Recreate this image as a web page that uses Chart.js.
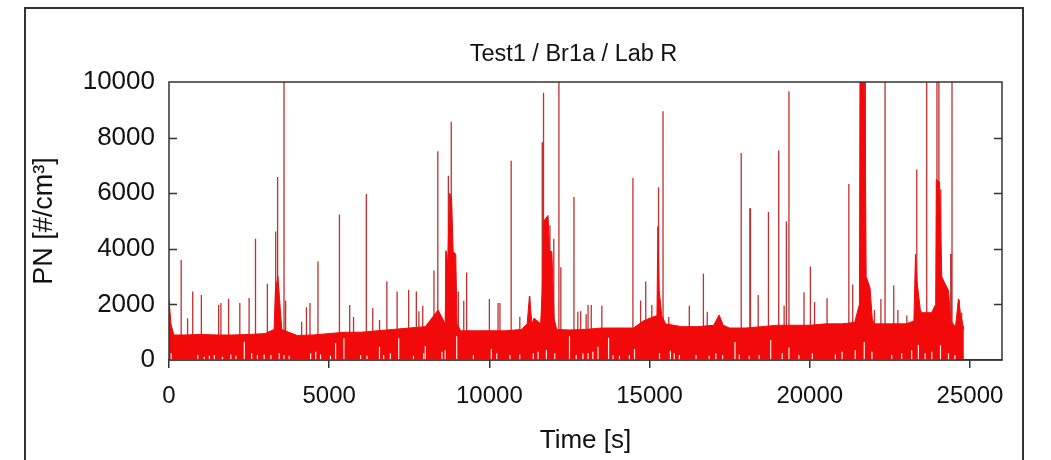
<!DOCTYPE html>
<html>
<head>
<meta charset="utf-8">
<script src="https://cdn.jsdelivr.net/npm/chart.js@4"></script>
<style>
  html, body { margin: 0; padding: 0; background: #fff; overflow: hidden; }
  #wrap { position: relative; width: 1051px; height: 460px; }
  #frame { position: absolute; left: 24px; top: 7px; width: 1000px; height: 500px; border: 2px solid #333; box-sizing: border-box; pointer-events: none; }
  canvas { position: absolute; left: 0; top: 0; }
</style>
</head>
<body>
<div id="wrap">
  <canvas id="chart" width="1051" height="460"></canvas>
  <div id="frame"></div>
</div>
<script>
// baseline band: upper envelope of the dense signal [time s, PN]
const bandTimes = [0, 60, 150, 500, 1000, 1500, 2000, 2500, 3000, 3280, 3320, 3400, 3450, 3520, 4000, 4500, 5000, 5500, 6000, 6500, 7000, 7500, 8000, 8200, 8400, 8620, 8650, 8700, 8760, 8820, 8870, 8950, 8990, 9100, 9500, 10000, 10500, 11000, 11180, 11250, 11330, 11400, 11600, 11650, 11700, 11830, 11880, 11950, 12020, 12100, 12500, 13000, 13500, 14000, 14500, 14800, 15000, 15230, 15260, 15300, 15380, 15500, 16000, 16500, 17000, 17170, 17300, 17500, 18000, 18500, 19000, 19500, 20000, 20500, 21000, 21400, 21550, 21570, 21720, 21760, 21880, 21950, 22000, 22500, 23000, 23250, 23300, 23350, 23450, 23500, 23800, 23930, 23950, 24050, 24120, 24200, 24330, 24400, 24550, 24640, 24700, 24810];
const bandTop = [2200, 1300, 900, 900, 920, 900, 900, 920, 950, 1100, 2500, 3000, 2200, 1100, 880, 900, 950, 1000, 1000, 1050, 1100, 1150, 1200, 1500, 1800, 1300, 3900, 3500, 6000, 5800, 3900, 3800, 1300, 1050, 1050, 1050, 1050, 1100, 1300, 2300, 1300, 1500, 1300, 2500, 5000, 5200, 3900, 3900, 1500, 1100, 1080, 1100, 1150, 1150, 1150, 1400, 1500, 1600, 4800, 2500, 1600, 1300, 1200, 1200, 1250, 1620, 1250, 1150, 1150, 1200, 1250, 1250, 1250, 1300, 1300, 1350, 2000, 10500, 10500, 3000, 2600, 1500, 1300, 1300, 1300, 1400, 3800, 2800, 1800, 1700, 1700, 2000, 6500, 6400, 3000, 2800, 2500, 1400, 1200, 2200, 1700, 1100];

// isolated spikes [time s, peak PN]
const spikeTimes = [380, 580, 740, 1010, 1550, 1620, 1860, 2210, 2500, 2700, 3070, 3330, 3390, 3590, 3640, 4140, 4290, 4400, 4650, 5320, 5640, 5760, 6160, 6360, 6560, 6580, 6800, 7120, 7480, 7720, 7800, 7920, 8270, 8390, 8640, 8720, 8810, 8910, 9030, 9200, 9290, 10000, 10270, 10330, 10680, 10950, 11260, 11390, 11650, 11690, 11890, 12010, 12170, 12230, 12640, 12760, 12850, 13020, 13080, 13180, 13510, 14480, 14720, 14880, 15070, 15280, 15420, 15600, 16240, 16680, 16800, 17860, 18130, 18150, 18390, 18710, 19030, 19200, 19270, 19350, 19820, 20020, 20150, 20540, 21220, 21340, 21580, 21650, 21730, 22020, 22220, 22350, 22620, 22750, 23030, 23340, 23650, 23970, 24030, 24090, 24400, 24440, 24670, 24740];
const spikePeaks = [3600, 1500, 2460, 2340, 1980, 2050, 2200, 2050, 2230, 4360, 2740, 4620, 6580, 10500, 2140, 1380, 1900, 2050, 3540, 5230, 1980, 1550, 5970, 1870, 1400, 1440, 2820, 2460, 2520, 2460, 1750, 1950, 3220, 7510, 3940, 6630, 8570, 3850, 2460, 2130, 3150, 2190, 2050, 2050, 7170, 1560, 2300, 1490, 7830, 9610, 4840, 4360, 10500, 3340, 5860, 1740, 1750, 1650, 1980, 1980, 1950, 6550, 2140, 2820, 1980, 6210, 8950, 1550, 1950, 3100, 1740, 7450, 5460, 5460, 2340, 5320, 7540, 1950, 4990, 9670, 2440, 3360, 2090, 2220, 6330, 2720, 10500, 10500, 10500, 1800, 2190, 10500, 2680, 1800, 1600, 6850, 10500, 10500, 10500, 6130, 3810, 10500, 2160, 1700];

// moments where the signal never fell to zero: lower edge of the band [time s, PN]
const dipTimes = [68, 900, 1100, 1260, 1415, 1670, 1930, 2090, 2350, 2580, 2760, 2970, 3180, 3440, 3590, 3750, 4420, 4580, 4730, 5040, 5200, 5460, 5980, 6180, 6570, 6700, 6910, 7170, 7630, 7950, 8000, 8520, 8620, 8980, 9500, 10060, 10230, 10640, 10950, 11370, 11520, 11780, 12040, 12500, 12710, 12920, 13080, 13230, 13390, 13720, 13860, 14060, 14370, 14530, 15310, 15650, 15770, 15930, 16450, 16860, 17070, 17280, 17665, 17800, 18110, 18420, 18780, 19140, 19350, 19660, 20080, 20800, 21010, 21420, 21700, 21940, 22560, 22870, 23180, 23390, 23600, 23810, 24080, 24330, 24530];
const dipTops = [240, 180, 120, 150, 180, 120, 200, 150, 660, 240, 180, 200, 180, 240, 180, 150, 240, 300, 200, 150, 600, 780, 180, 150, 480, 180, 240, 780, 150, 240, 500, 300, 360, 850, 180, 400, 240, 180, 200, 240, 300, 360, 240, 850, 180, 240, 240, 300, 480, 800, 180, 150, 180, 400, 240, 330, 240, 180, 180, 150, 240, 180, 650, 200, 150, 180, 720, 240, 450, 180, 240, 200, 300, 360, 650, 300, 180, 240, 360, 540, 240, 300, 530, 240, 180];

const xTicks = [0, 5000, 10000, 15000, 20000, 25000];
const yTicks = [0, 2000, 4000, 6000, 8000, 10000];
const chartTitle = "Test1 / Br1a / Lab R";

const toLines = (times, tops) => {
  const pts = [];
  times.forEach((t, i) => pts.push({ x: t, y: 0 }, { x: t, y: tops[i] }, { x: t, y: 0 }));
  return pts;
};

const bandData = bandTimes.map((t, i) => ({ x: t, y: bandTop[i] }));
const spikeData = toLines(spikeTimes, spikePeaks);
const dipData = toLines(dipTimes, dipTops);

const font = "'Liberation Sans', Arial, sans-serif";

// plot box, inward ticks on left and right, title centred on the plot
const boxPlugin = {
  id: "box",
  afterDatasetsDraw(chart) {
    const { ctx, chartArea: a, scales } = chart;
    ctx.save();
    ctx.strokeStyle = "#333";
    ctx.lineWidth = 1.5;
    ctx.strokeRect(a.left, a.top, a.right - a.left, a.bottom - a.top);
    yTicks.slice(1, -1).forEach((v) => {
      const y = Math.round(scales.y.getPixelForValue(v)) + 0.5;
      ctx.beginPath();
      ctx.moveTo(a.left, y);
      ctx.lineTo(a.left + 8, y);
      ctx.moveTo(a.right, y);
      ctx.lineTo(a.right - 8, y);
      ctx.stroke();
    });
    ctx.fillStyle = "#111";
    ctx.font = "23.5px " + font;
    ctx.textAlign = "center";
    ctx.textBaseline = "middle";
    ctx.fillText(chartTitle, (a.left + a.right) / 2 - 12, a.top - 27);
    ctx.restore();
  },
};

new Chart(document.getElementById("chart"), {
  type: "line",
  data: {
    datasets: [
      {
        label: "dips",
        data: dipData,
        borderColor: "rgba(255,255,255,0.9)",
        borderWidth: 1.2,
        fill: false,
        pointRadius: 0,
        tension: 0,
        order: -1,
      },
      {
        label: "band",
        data: bandData,
        borderColor: "rgb(242,10,10)",
        backgroundColor: "rgb(242,10,10)",
        borderWidth: 1,
        fill: "origin",
        pointRadius: 0,
        tension: 0,
        order: 0,
      },
      {
        label: "spikes",
        data: spikeData,
        borderColor: "#c0302f",
        borderWidth: 1.3,
        fill: false,
        pointRadius: 0,
        tension: 0,
        order: 1,
      },
    ],
  },
  options: {
    responsive: false,
    animation: false,
    devicePixelRatio: 1,
    layout: { padding: { left: 0, right: 49, top: 82, bottom: 0 } },
    plugins: {
      legend: { display: false },
      tooltip: { enabled: false },
      title: { display: false },
    },
    scales: {
      x: {
        type: "linear",
        min: 0,
        max: 26000,
        afterBuildTicks: (scale) => {
          scale.ticks = xTicks.map((v) => ({ value: v }));
        },
        afterFit: (scale) => {
          scale.height = 100;
        },
        grid: { drawOnChartArea: false, drawTicks: true, tickLength: 8, color: "#333", lineWidth: 1.5 },
        border: { display: true, color: "#333", width: 1.5 },
        ticks: { color: "#111", padding: 14, font: { family: font, size: 24 }, callback: (v) => String(v) },
        title: {
          display: true,
          text: "Time [s]",
          color: "#111",
          font: { family: font, size: 26 },
          padding: { top: 0, bottom: 4 },
        },
      },
      y: {
        type: "linear",
        min: 0,
        max: 10000,
        afterBuildTicks: (scale) => {
          scale.ticks = yTicks.map((v) => ({ value: v }));
        },
        afterFit: (scale) => {
          scale.width = 169;
        },
        grid: { display: false, drawTicks: false },
        border: { display: false },
        ticks: { color: "#111", padding: 14, font: { family: font, size: 26 }, callback: (v) => String(v) },
        title: {
          display: true,
          text: "PN [#/cm³]",
          color: "#111",
          font: { family: font, size: 27 },
          padding: { top: 28, bottom: 0 },
        },
      },
    },
  },
  plugins: [boxPlugin],
});
</script>
</body>
</html>
